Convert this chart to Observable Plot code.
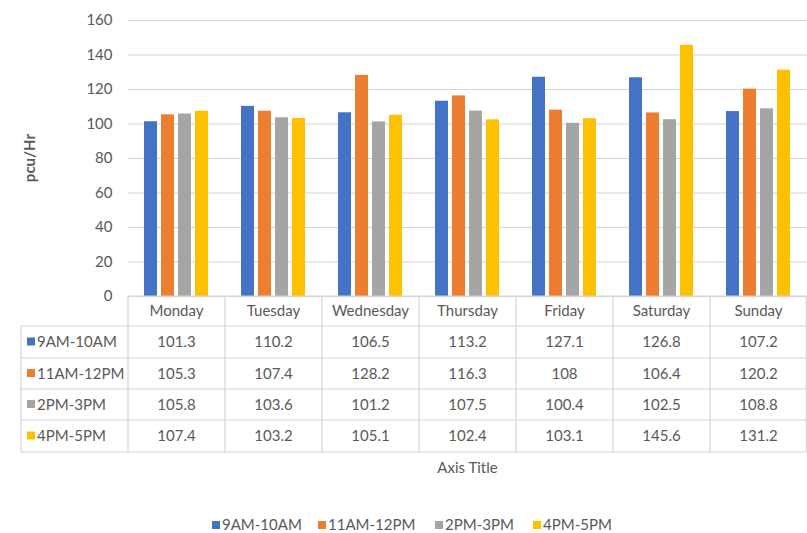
<!DOCTYPE html>
<html>
<head>
<meta charset="utf-8">
<script src="https://cdn.jsdelivr.net/npm/d3@7"></script>
<script src="https://cdn.jsdelivr.net/npm/@observablehq/plot@0.6"></script>
<style>
  html, body { margin: 0; padding: 0; background: #fff; }
  #chart svg { display: block; }
</style>
</head>
<body>
<div id="chart"></div>
<script>
// Hourly traffic volume (pcu/Hr) by day of week and time slot
const days = ["Monday", "Tuesday", "Wednesday", "Thursday", "Friday", "Saturday", "Sunday"];
const slots = ["9AM-10AM", "11AM-12PM", "2PM-3PM", "4PM-5PM"];
const slotColors = ["#4472C4", "#ED7D31", "#A5A5A5", "#FFC000"];
const am9 = [101.3, 110.2, 106.5, 113.2, 127.1, 126.8, 107.2];
const am11 = [105.3, 107.4, 128.2, 116.3, 108, 106.4, 120.2];
const pm2 = [105.8, 103.6, 101.2, 107.5, 100.4, 102.5, 108.8];
const pm4 = [107.4, 103.2, 105.1, 102.4, 103.1, 145.6, 131.2];
const yTicks = [0, 20, 40, 60, 80, 100, 120, 140, 160];

const seriesValues = [am9, am11, pm2, pm4];
const rows = [];
slots.forEach((s, i) => days.forEach((d, j) => rows.push({day: d, slot: s, value: seriesValues[i][j]})));

const W = 807, H = 533;
const font = "Lato, 'Open Sans', sans-serif";
const textColor = "#595959";
const lineColor = "#d4d4d4";

const plot = Plot.plot({
  width: W,
  height: H,
  marginTop: 20,
  marginBottom: H - 296,
  marginLeft: 128,
  marginRight: 0,
  style: {fontFamily: font, fontSize: "15px", color: textColor, background: "#fff"},
  fx: {domain: days, padding: 0, axis: null, label: null},
  x: {domain: slots, paddingInner: 0.233, paddingOuter: 0.872, axis: null},
  y: {domain: [0, 160], axis: null},
  color: {domain: slots, range: slotColors},
  marks: [
    Plot.gridY(yTicks, {stroke: lineColor, strokeOpacity: 1, strokeWidth: 1.2}),
    Plot.barY(rows, {fx: "day", x: "slot", y: "value", fill: "slot"}),
    Plot.axisY(yTicks, {tickSize: 0, tickPadding: 16, label: null, fill: textColor, fontSize: 15})
  ]
});
document.getElementById("chart").appendChild(plot);

// Data table, axis title and legend drawn beneath the bars
const fx = plot.scale("fx");
const svg = d3.select(plot);
const g = svg.append("g").attr("font-family", font).attr("fill", textColor).attr("text-anchor", "start");
const colW = (W - 128) / days.length;
const left = 21, labelRight = 128, right = W;
const rowY = [296, 326, 358, 389, 420, 452];

const lines = g.append("g").attr("stroke", lineColor).attr("stroke-width", 1.2);
// header row top (only over the day columns)
lines.append("line").attr("x1", labelRight).attr("x2", right).attr("y1", rowY[0]).attr("y2", rowY[0]);
// remaining horizontal rules
rowY.slice(1).forEach(y => lines.append("line").attr("x1", left).attr("x2", right).attr("y1", y).attr("y2", y));
// vertical rules
lines.append("line").attr("x1", left).attr("x2", left).attr("y1", rowY[1]).attr("y2", rowY[5]);
days.forEach(d => {
  const x = fx.apply(d);
  lines.append("line").attr("x1", x).attr("x2", x).attr("y1", rowY[0]).attr("y2", rowY[5]);
});
lines.append("line").attr("x1", right - 0.6).attr("x2", right - 0.6).attr("y1", rowY[0]).attr("y2", rowY[5]);

// day headers
days.forEach(d => {
  g.append("text").attr("x", fx.apply(d) + colW / 2).attr("y", (rowY[0] + rowY[1]) / 2)
    .attr("dy", "0.35em").attr("text-anchor", "middle").attr("font-size", 15).text(d);
});
// series rows
slots.forEach((s, i) => {
  const yc = (rowY[i + 1] + rowY[i + 2]) / 2;
  g.append("rect").attr("x", 27).attr("y", yc - 4.5).attr("width", 8).attr("height", 8).attr("fill", slotColors[i]);
  g.append("text").attr("x", 37).attr("y", yc).attr("dy", "0.35em").attr("text-anchor", "start")
    .attr("font-size", 15).text(s);
  days.forEach((d, j) => {
    g.append("text").attr("x", fx.apply(d) + colW / 2).attr("y", yc).attr("dy", "0.35em")
      .attr("text-anchor", "middle").attr("font-size", 15).text(String(seriesValues[i][j]));
  });
});

// axis titles
g.append("text").attr("x", (labelRight + right) / 2).attr("y", 468).attr("dy", "0.35em")
  .attr("text-anchor", "middle").attr("font-size", 15).text("Axis Title");
g.append("text").attr("transform", "translate(30,158) rotate(-90)").attr("dy", "0.35em")
  .attr("text-anchor", "middle").attr("font-size", 15).attr("font-weight", "bold").text("pcu/Hr");

// legend
const legendX = [212, 318, 435, 533];
slots.forEach((s, i) => {
  g.append("rect").attr("x", legendX[i]).attr("y", 521).attr("width", 8).attr("height", 8).attr("fill", slotColors[i]);
  g.append("text").attr("x", legendX[i] + 10).attr("y", 525).attr("dy", "0.35em").attr("text-anchor", "start")
    .attr("font-size", 15).text(s);
});
</script>
</body>
</html>
